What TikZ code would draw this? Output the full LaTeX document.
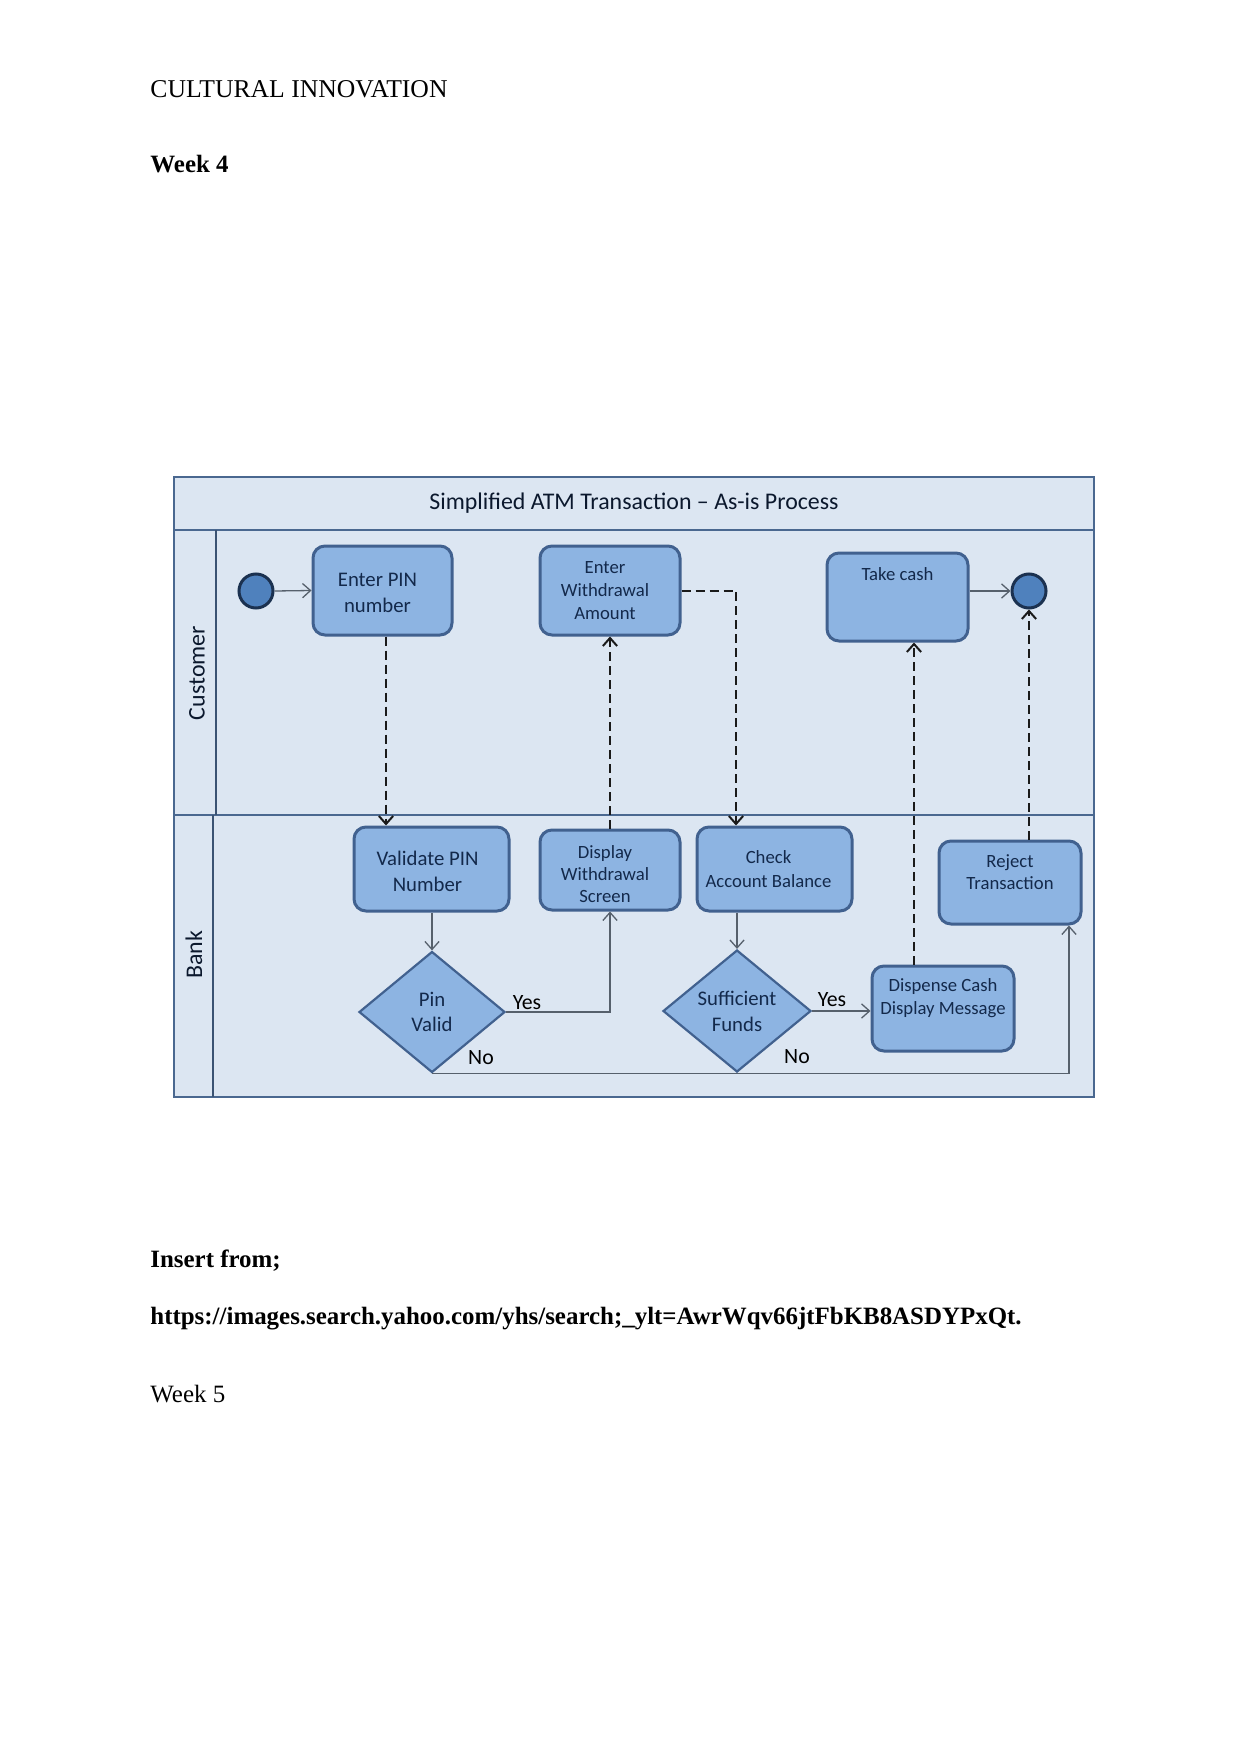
\documentclass[tikz,border=0pt]{standalone}
\usepackage{fontspec}
\setmainfont{Liberation Serif}
\newfontfamily\diag{Carlito}
\usetikzlibrary{shapes.geometric,arrows.meta}
\newlength\px
\setlength\px{0.16922mm}
\definecolor{lanebg}{HTML}{DCE6F2}
\definecolor{frameline}{HTML}{4A6890}
\definecolor{boxfill}{HTML}{8DB4E2}
\definecolor{boxline}{HTML}{41618F}
\definecolor{circfill}{HTML}{4F81BD}
\definecolor{circline}{HTML}{1B3150}
\definecolor{txt}{HTML}{13294B}
\definecolor{solidline}{HTML}{56606C}
\definecolor{dashline}{HTML}{1A1A1A}
\begin{document}
\begin{tikzpicture}[x=1\px,y=-1\px,
  pagetext/.style={anchor=base west,inner sep=0pt,font=\fontsize{12}{14}\selectfont},
  frame/.style={draw=frameline,line width=2.5\px},
  divider/.style={draw=frameline!80!black,line width=1.5\px},
  box/.style={draw=boxline,line width=3\px,fill=boxfill,rounded corners=12\px,
    align=center,text=txt,inner sep=0pt,font=\diag\fontsize{9}{11}\selectfont},
  boxlbl/.style={align=center,text=txt,inner sep=0pt,font=\diag\fontsize{9}{11}\selectfont},
  dec/.style={diamond,draw=boxline,line width=2.2\px,fill=boxfill,align=center,text=txt,
    inner sep=0pt,font=\diag\fontsize{10}{12.2}\selectfont},
  circ/.style={circle,draw=circline,line width=3\px,fill=circfill,minimum size=34\px,inner sep=0pt},
  lanelbl/.style={rotate=90,inner sep=0pt,text=txt!60!black,font=\diag\fontsize{11.5}{13}\selectfont},
  lbl/.style={inner sep=0pt,text=black,font=\diag\fontsize{10.5}{12}\selectfont},
  flow/.style={draw=solidline,line width=1.3\px,-{Straight Barb[length=1.35mm,width=2.4mm]}},
  msg/.style={draw=dashline,line width=2\px,dash pattern=on 9\px off 5\px,
    -{Straight Barb[length=1.35mm,width=2.4mm]}}
]
\useasboundingbox (0,0) rectangle (1241,1754);
\fill[white] (0,0) rectangle (1241,1754);

% page text
\node[pagetext,font=\fontsize{12.35}{14}\selectfont] (hdr) at (150,97.5) {CULTURAL INNOVATION};
\node[pagetext,font=\bfseries\fontsize{12}{14}\selectfont] (wk4) at (150,172.5) {Week 4};
\node[pagetext,font=\bfseries\fontsize{12}{14}\selectfont] (ins) at (150,1267) {Insert from;};
\node[pagetext,font=\bfseries\fontsize{12}{14}\selectfont] (url) at (150,1324) {https://images.search.yahoo.com/yhs/search;\_ylt=AwrWqv66jtFbKB8ASDYPxQt.};
\node[pagetext] (wk5) at (150,1402) {Week 5};

% swimlane frame
\fill[lanebg] (174,477) rectangle (1094,1097);
\draw[frame] (174,477) rectangle (1094,1097);
\draw[frame] (174,530) -- (1094,530);
\draw[frame] (174,815) -- (1094,815);
\draw[divider] (216,530) -- (216,815);
\draw[divider] (213,815) -- (213,1097);
\node[inner sep=0pt,text=txt!60!black,font=\diag\fontsize{11.5}{14}\selectfont] (title) at (634,503) {Simplified ATM Transaction – As-is Process};
\node[lanelbl] (cust) at (197,673) {Customer};
\node[lanelbl] (bank) at (194,955) {Bank};

% customer lane
\node[circ] (start) at (256,591) {};
\node[circ] (end) at (1029,591) {};
\node[box,minimum width=139\px,minimum height=89\px,font=\diag\fontsize{10}{12.5}\selectfont,
  label={[boxlbl,font=\diag\fontsize{10}{12.5}\selectfont,xshift=-5\px,yshift=-2\px]center:{Enter PIN\\number}}] (pin) at (382.5,590.5) {};
\node[box,minimum width=140\px,minimum height=89\px,
  label={[boxlbl,xshift=-5\px]center:{Enter\\Withdrawal\\Amount}}] (ewa) at (610,590.5) {};
\node[box,minimum width=141\px,minimum height=88\px,
  label={[boxlbl,yshift=23\px]center:Take cash}] (take) at (897.5,597) {};

% bank lane
\node[box,minimum width=155\px,minimum height=84\px,
  label={[boxlbl,font=\diag\fontsize{10}{12.5}\selectfont,xshift=-4\px,yshift=-2\px]center:{Validate PIN\\Number}}] (val) at (431.5,869) {};
\node[box,minimum width=140\px,minimum height=80\px,
  label={[boxlbl,font=\diag\fontsize{9}{10.8}\selectfont,xshift=-5\px,yshift=-4\px]center:{Display\\Withdrawal\\Screen}}] (disp) at (610,870) {};
\node[box,minimum width=155\px,minimum height=84\px,
  label={[boxlbl,font=\diag\fontsize{9}{11.5}\selectfont,xshift=-6\px]center:{Check\\Account Balance}}] (chk) at (774.5,869) {};
\node[box,minimum width=142\px,minimum height=83\px,
  label={[boxlbl,font=\diag\fontsize{9}{10.6}\selectfont,yshift=10.5\px]center:{Reject\\Transaction}}] (rej) at (1010,882.5) {};
\node[box,minimum width=142\px,minimum height=85\px,
  label={[boxlbl,yshift=10\px]center:{Dispense Cash\\Display Message}}] (dsp) at (943,1008.5) {};
\node[dec,minimum width=146\px,minimum height=121\px] (pinv) at (432,1012) {Pin\\Valid};
\node[dec,minimum width=148\px,minimum height=122\px,font=\diag\fontsize{10}{12.5}\selectfont] (suf) at (737,1011) {Sufficient\\Funds};

% labels
\node[lbl] (yes1) at (527,1003) {Yes};
\node[lbl] (no1) at (481,1058) {No};
\node[lbl] (yes2) at (832,1000) {Yes};
\node[lbl] (no2) at (797,1057) {No};

% solid flows
\draw[flow] (start.east) -- (pin.west);
\draw[flow] (take.east |- end.west) -- (end.west);
\draw[flow] (pinv.north |- val.south) -- (pinv.north);
\draw[flow] (pinv.east) -| (disp.south);
\draw[flow] (suf.north |- chk.south) -- (suf.north);
\draw[flow] (suf.east) -- (suf.east -| dsp.west);
\draw[flow] (pinv.south) -| ([xshift=59\px]rej.south);

% dashed messages
\draw[msg] ([xshift=3.5\px]pin.south) -- ([xshift=3.5\px]pin.south |- val.north);
\draw[msg] (disp.north) -- (ewa.south);
\draw[msg] (ewa.east) -| ([xshift=-38.5\px]chk.north);
\draw[msg] ([xshift=-29\px]dsp.north) -- ([xshift=-29\px]dsp.north |- take.south);
\draw[msg] (end.south |- rej.north) -- (end.south);
\end{tikzpicture}
\end{document}
